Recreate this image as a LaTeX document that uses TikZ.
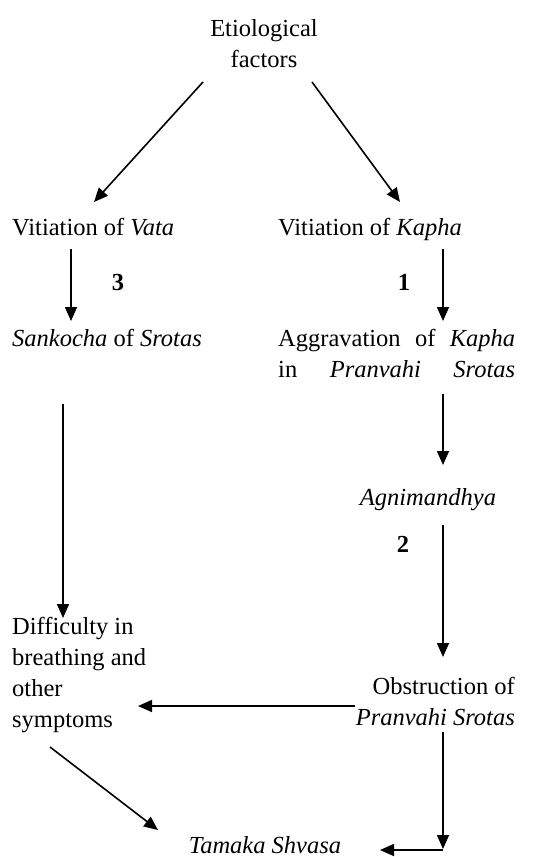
\documentclass[tikz,border=0pt]{standalone}
\usepackage{fontspec}
\setmainfont{Liberation Serif}
\usetikzlibrary{arrows.meta}
\begin{document}
\begin{tikzpicture}[x=1pt,y=-1pt,
  lbl/.style={inner sep=0pt, font=\fontsize{24.5}{31}\selectfont},
  num/.style={inner sep=0pt, font=\fontsize{24.5}{31}\selectfont\bfseries},
  arr/.style={line width=1.6pt, -{Triangle[length=14pt,width=12pt]}},
  ln/.style={line width=1.6pt}]
\useasboundingbox (0,0) rectangle (547,857);
% nodes (multi-line nodes: base anchor = last line)
\node[lbl, anchor=base, align=center] (etio) at (264,67) {Etiological\\factors};
\node[lbl, anchor=base west] (vata) at (12,235) {Vitiation of \textit{Vata}};
\node[lbl, anchor=base west] (kapha) at (278,235) {Vitiation of \textit{Kapha}};
\node[num, anchor=base] (n3) at (118,290) {3};
\node[num, anchor=base] (n1) at (404,290) {1};
\node[lbl, anchor=base west] (sank) at (12,346) {\textit{Sankocha} of \textit{Srotas}};
\node[lbl, anchor=base west, align=left] (aggr) at (278,377)
  {\hbox to 237pt{Aggravation\hfill of\hfill\textit{Kapha}}\\\hbox to 237pt{in\hfill\textit{Pranvahi}\hfill\textit{Srotas}}};
\node[lbl, anchor=base] (agni) at (428,505) {\textit{Agnimandhya}};
\node[num, anchor=base] (n2) at (403,552) {2};
\node[lbl, anchor=base west, align=left] (diff) at (12,727) {Difficulty in\\breathing and\\other\\symptoms};
\node[lbl, anchor=base east, align=right] (obst) at (515,725) {Obstruction of\\\textit{Pranvahi Srotas}};
\node[lbl, anchor=base] (tam) at (265,853) {\textit{Tamaka Shvasa}};
% connector end points
\coordinate (e1) at (203,82);   \coordinate (e2) at (94,202);
\coordinate (e3) at (312,82);   \coordinate (e4) at (400,202);
\coordinate (v1) at (71,249);   \coordinate (v2) at (71,321);
\coordinate (k1) at (443,249);  \coordinate (k2) at (443,321);
\coordinate (s1) at (63,404);   \coordinate (s2) at (63,618);
\coordinate (a1) at (443,394);  \coordinate (a2) at (443,465);
\coordinate (g1) at (443,525);  \coordinate (g2) at (443,657);
\coordinate (o1) at (355,706);  \coordinate (o2) at (138,706);
\coordinate (p1) at (443,732);  \coordinate (p2) at (443,849);
\coordinate (p3) at (443,850);  \coordinate (p4) at (380,850);
\coordinate (d1) at (50,747);   \coordinate (d2) at (158,830);
% connectors
\draw[arr] (e1) -- (e2);
\draw[arr] (e3) -- (e4);
\draw[arr] (v1) -- (v2);
\draw[arr] (k1) -- (k2);
\draw[arr] (s1) -- (s2);
\draw[arr] (a1) -- (a2);
\draw[arr] (g1) -- (g2);
\draw[arr] (o1) -- (o2);
\draw[arr] (p1) -- (p2);
\draw[arr] (p3) -- (p4);
\draw[arr] (d1) -- (d2);
\end{tikzpicture}
\end{document}
